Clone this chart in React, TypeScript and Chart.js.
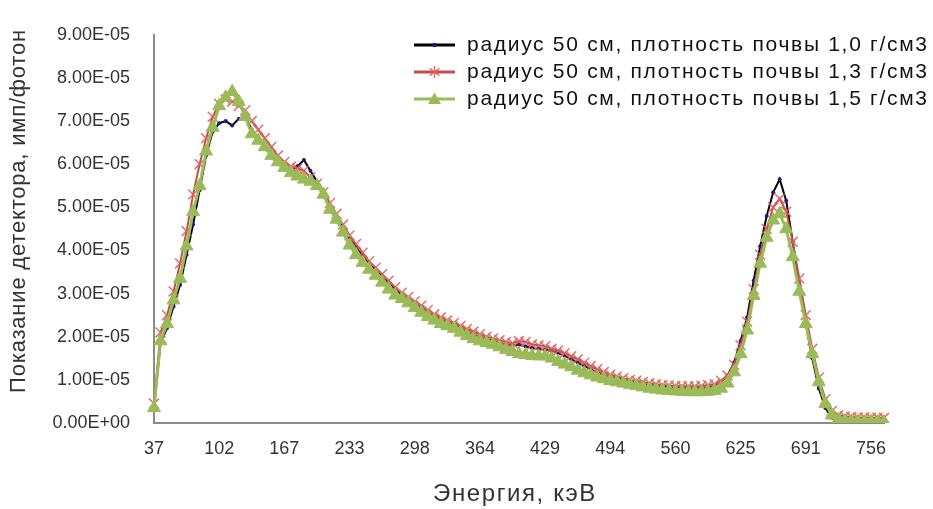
import React, { useEffect, useRef } from 'react';
import { Chart, registerables } from 'chart.js';

Chart.register(...registerables);

// Energy tick labels, keV (one label every 10 channels)
const tickLabels = ['37', '102', '167', '233', '298', '364', '429', '494', '560', '625', '691', '756'];
const pointsPerLabel = 10;

const seriesNames = [
  'радиус 50 см, плотность почвы 1,0 г/см3',
  'радиус 50 см, плотность почвы 1,3 г/см3',
  'радиус 50 см, плотность почвы 1,5 г/см3',
];

const xTitle = 'Энергия, кэВ';
const yTitle = 'Показание детектора, имп/фотон';

// Detector reading, in units of 1E-05 imp/photon
const density10 = [
  0.35, 1.85, 2.2, 2.7, 3.2, 3.9, 4.6, 5.4, 6.2, 6.75,
  6.95, 7.0, 6.9, 7.05, 7.1, 6.8, 6.6, 6.45, 6.25, 6.1,
  5.95, 5.85, 5.95, 6.1, 5.85, 5.6, 5.35, 5.05, 4.8, 4.55,
  4.3, 4.08, 3.88, 3.7, 3.55, 3.4, 3.25, 3.1, 2.98, 2.88,
  2.78, 2.68, 2.58, 2.48, 2.4, 2.33, 2.28, 2.2, 2.12, 2.06,
  2.0, 1.95, 1.9, 1.86, 1.82, 1.8, 1.82, 1.78, 1.74, 1.72,
  1.7, 1.68, 1.62, 1.56, 1.48, 1.4, 1.32, 1.25, 1.18, 1.12,
  1.07, 1.03, 1.0, 0.96, 0.93, 0.9, 0.88, 0.86, 0.84, 0.83,
  0.82, 0.81, 0.8, 0.8, 0.81, 0.83, 0.86, 0.95, 1.1, 1.4,
  1.9, 2.45, 3.3, 4.1, 4.8, 5.35, 5.65, 5.15, 4.2, 3.2,
  2.3, 1.5, 0.8, 0.35, 0.12, 0.06, 0.04, 0.03, 0.03, 0.02,
  0.02, 0.02, 0.02,
];

const density13 = [
  0.45, 2.1, 2.5, 3.05, 3.7, 4.45, 5.3, 6.0, 6.6, 7.1,
  7.4, 7.5, 7.45, 7.35, 7.25, 7.0, 6.8, 6.6, 6.4, 6.2,
  6.05, 5.95, 5.9, 5.85, 5.7, 5.55, 5.35, 5.1, 4.85, 4.6,
  4.35, 4.15, 3.95, 3.75, 3.6, 3.45, 3.3, 3.15, 3.02, 2.92,
  2.82, 2.72, 2.62, 2.52, 2.45, 2.38, 2.32, 2.25, 2.18, 2.12,
  2.06, 2.0, 1.96, 1.92, 1.88, 1.85, 1.9, 1.88, 1.82, 1.8,
  1.78, 1.72, 1.68, 1.62, 1.55, 1.48, 1.4, 1.32, 1.25, 1.18,
  1.12, 1.08, 1.04, 1.0, 0.98, 0.95, 0.92, 0.9, 0.88, 0.87,
  0.86, 0.85, 0.85, 0.85, 0.86, 0.88, 0.9, 0.98, 1.1, 1.35,
  1.8, 2.35, 3.1, 3.9, 4.5, 5.0, 5.2, 4.9, 4.2, 3.35,
  2.5, 1.72, 1.05, 0.55, 0.28, 0.18, 0.15, 0.14, 0.13, 0.13,
  0.12, 0.12, 0.12,
];

const density15 = [
  0.35, 1.9, 2.3, 2.85, 3.35, 4.1, 4.9, 5.5, 6.3, 6.85,
  7.35, 7.55, 7.68, 7.45, 7.1, 6.7, 6.55, 6.4, 6.2, 6.05,
  5.92, 5.8, 5.72, 5.65, 5.6, 5.5, 5.3, 4.95, 4.72, 4.42,
  4.12, 3.9, 3.72, 3.56, 3.42, 3.26, 3.1, 2.96, 2.88, 2.78,
  2.67, 2.56, 2.46, 2.38, 2.3, 2.25, 2.19, 2.1, 2.02, 1.95,
  1.9, 1.86, 1.82, 1.76, 1.7, 1.65, 1.6, 1.58, 1.56, 1.55,
  1.55, 1.5, 1.42, 1.36, 1.3, 1.22, 1.16, 1.11, 1.06, 1.02,
  0.98, 0.95, 0.92, 0.89, 0.86, 0.83, 0.8, 0.78, 0.76, 0.75,
  0.74, 0.73, 0.72, 0.72, 0.72, 0.73, 0.75, 0.8, 0.92, 1.18,
  1.6, 2.15, 2.95, 3.7, 4.3, 4.7, 4.85, 4.5, 3.85, 3.05,
  2.3, 1.6, 0.95, 0.45, 0.18, 0.08, 0.05, 0.04, 0.04, 0.03,
  0.03, 0.03, 0.02,
];

const yMax = 9;
const yStep = 1;
const yUnit = 1e-5;

const colors = {
  black: '#000000',
  blackMarker: '#1c1c8a',
  red: '#C0504D',
  redMarker: 'rgba(222, 96, 94, 0.9)',
  green: '#9BBB59',
  axis: '#8a8a8a',
  text: '#333333',
};

const FONT = '"Liberation Sans", Arial, sans-serif';

function sci(v: number): string {
  if (Math.abs(v) < 1e-20) return '0.00E+00';
  const e = Math.floor(Math.log10(Math.abs(v)) + 1e-9);
  const m = v / Math.pow(10, e);
  const sign = e < 0 ? '-' : '+';
  return m.toFixed(2) + 'E' + sign + String(Math.abs(e)).padStart(2, '0');
}

function drawMarker(ctx: CanvasRenderingContext2D, kind: string, x: number, y: number) {
  ctx.save();
  if (kind === 'dot') {
    ctx.fillStyle = colors.blackMarker;
    ctx.beginPath();
    ctx.arc(x, y, 2.2, 0, Math.PI * 2);
    ctx.fill();
  } else if (kind === 'star') {
    ctx.strokeStyle = colors.redMarker;
    ctx.lineWidth = 1.5;
    const r = 6;
    ctx.beginPath();
    ctx.moveTo(x - r * 0.8, y - r * 0.6);
    ctx.lineTo(x + r * 0.8, y + r * 0.6);
    ctx.moveTo(x - r * 0.8, y + r * 0.6);
    ctx.lineTo(x + r * 0.8, y - r * 0.6);
    ctx.moveTo(x, y - r);
    ctx.lineTo(x, y + r);
    ctx.stroke();
  } else if (kind === 'triangle') {
    ctx.fillStyle = colors.green;
    const r = 6.5;
    ctx.beginPath();
    ctx.moveTo(x, y - r);
    ctx.lineTo(x + r, y + r * 0.75);
    ctx.lineTo(x - r, y + r * 0.75);
    ctx.closePath();
    ctx.fill();
  }
  ctx.restore();
}

const insideLegend = {
  id: 'insideLegend',
  afterDraw(chart: any) {
    const ctx: any = chart.ctx;
    const area = chart.chartArea;
    const items = [
      { color: colors.black, marker: 'dot' },
      { color: colors.red, marker: 'star' },
      { color: colors.green, marker: 'triangle' },
    ];
    const lineX0 = 414;
    const lineX1 = 455;
    const textX = 467;
    const rowY = [45, 72, 99];
    ctx.save();
    items.forEach((it, i) => {
      const y = rowY[i];
      ctx.strokeStyle = it.color;
      ctx.lineWidth = 3;
      ctx.beginPath();
      ctx.moveTo(lineX0, y);
      ctx.lineTo(lineX1, y);
      ctx.stroke();
      drawMarker(ctx, it.marker, (lineX0 + lineX1) / 2, y);
      ctx.fillStyle = '#111111';
      ctx.font = '21px ' + FONT;
      ctx.letterSpacing = '1.7px';
      ctx.textBaseline = 'middle';
      ctx.textAlign = 'left';
      ctx.fillText(seriesNames[i], textX, y);
    });
    ctx.restore();

    // axis titles
    ctx.save();
    ctx.fillStyle = colors.text;
    ctx.textAlign = 'center';
    ctx.textBaseline = 'middle';
    ctx.font = '24px ' + FONT;
    ctx.letterSpacing = '1.6px';
    ctx.fillText(xTitle, (area.left + area.right) / 2 - 4, 494);
    ctx.restore();

    ctx.save();
    ctx.fillStyle = colors.text;
    ctx.textAlign = 'center';
    ctx.textBaseline = 'middle';
    ctx.font = '22px ' + FONT;
    ctx.letterSpacing = '0.8px';
    ctx.translate(19, 211);
    ctx.rotate(-Math.PI / 2);
    ctx.fillText(yTitle, 0, 0);
    ctx.restore();
  },
};

export default function App() {
  const canvasRef = useRef<HTMLCanvasElement | null>(null);

  useEffect(() => {
    document.body.style.margin = '0';
    const canvas = canvasRef.current;
    if (!canvas) return;
    const n = density15.length;
    const labels = Array.from({ length: n }, (_, i) =>
      i % pointsPerLabel === 0 && tickLabels[i / pointsPerLabel] !== undefined ? tickLabels[i / pointsPerLabel] : ''
    );

    const chart = new Chart(canvas, {
      type: 'line',
      data: {
        labels,
        datasets: [
          {
            label: seriesNames[0],
            data: density10,
            borderColor: colors.black,
            borderWidth: 2,
            pointStyle: 'circle',
            pointRadius: 2,
            pointBackgroundColor: colors.blackMarker,
            pointBorderColor: colors.blackMarker,
            pointBorderWidth: 0,
            tension: 0,
            order: 3,
          },
          {
            label: seriesNames[1],
            data: density13,
            borderColor: colors.red,
            borderWidth: 2,
            pointStyle: 'crossRot',
            pointRadius: 7,
            pointBorderColor: colors.redMarker,
            pointBorderWidth: 1.5,
            tension: 0,
            order: 2,
          },
          {
            label: seriesNames[2],
            data: density15,
            borderColor: colors.green,
            borderWidth: 3,
            pointStyle: 'triangle',
            pointRadius: 7.5,
            pointBackgroundColor: colors.green,
            pointBorderColor: colors.green,
            pointBorderWidth: 1,
            tension: 0,
            order: 1,
          },
        ],
      },
      options: {
        responsive: false,
        animation: false,
        devicePixelRatio: 1,
        layout: { padding: { left: 0, right: 49, top: 18, bottom: 0 } },
        plugins: {
          legend: { display: false },
          tooltip: { enabled: false },
        },
        scales: {
          x: {
            type: 'category',
            offset: false,
            grid: { display: false, drawTicks: false },
            border: { display: true, color: colors.axis, width: 2 },
            ticks: {
              autoSkip: false,
              maxRotation: 0,
              minRotation: 0,
              padding: 15,
              color: colors.text,
              font: { family: FONT, size: 18 },
            },
            title: { display: false, text: xTitle },
            afterFit: (s: any) => {
              s.height = 86;
            },
          },
          y: {
            type: 'linear',
            min: 0,
            max: yMax,
            grid: { display: false, drawTicks: false },
            border: { display: true, color: colors.axis, width: 2 },
            ticks: {
              stepSize: yStep,
              padding: 24,
              color: colors.text,
              font: { family: FONT, size: 18 },
              callback: (v: any) => sci(Number(v) * yUnit),
            },
            title: { display: false, text: yTitle },
            afterFit: (s: any) => {
              s.width = 154;
            },
          },
        },
      },
      plugins: [insideLegend],
    });

    return () => {
      chart.destroy();
    };
  }, []);

  return (
    <div style={{ position: 'fixed', left: 0, top: 0, width: 933, height: 509, background: '#ffffff' }}>
      <canvas ref={canvasRef} width={933} height={509} style={{ width: 933, height: 509, display: 'block' }} />
    </div>
  );
}
